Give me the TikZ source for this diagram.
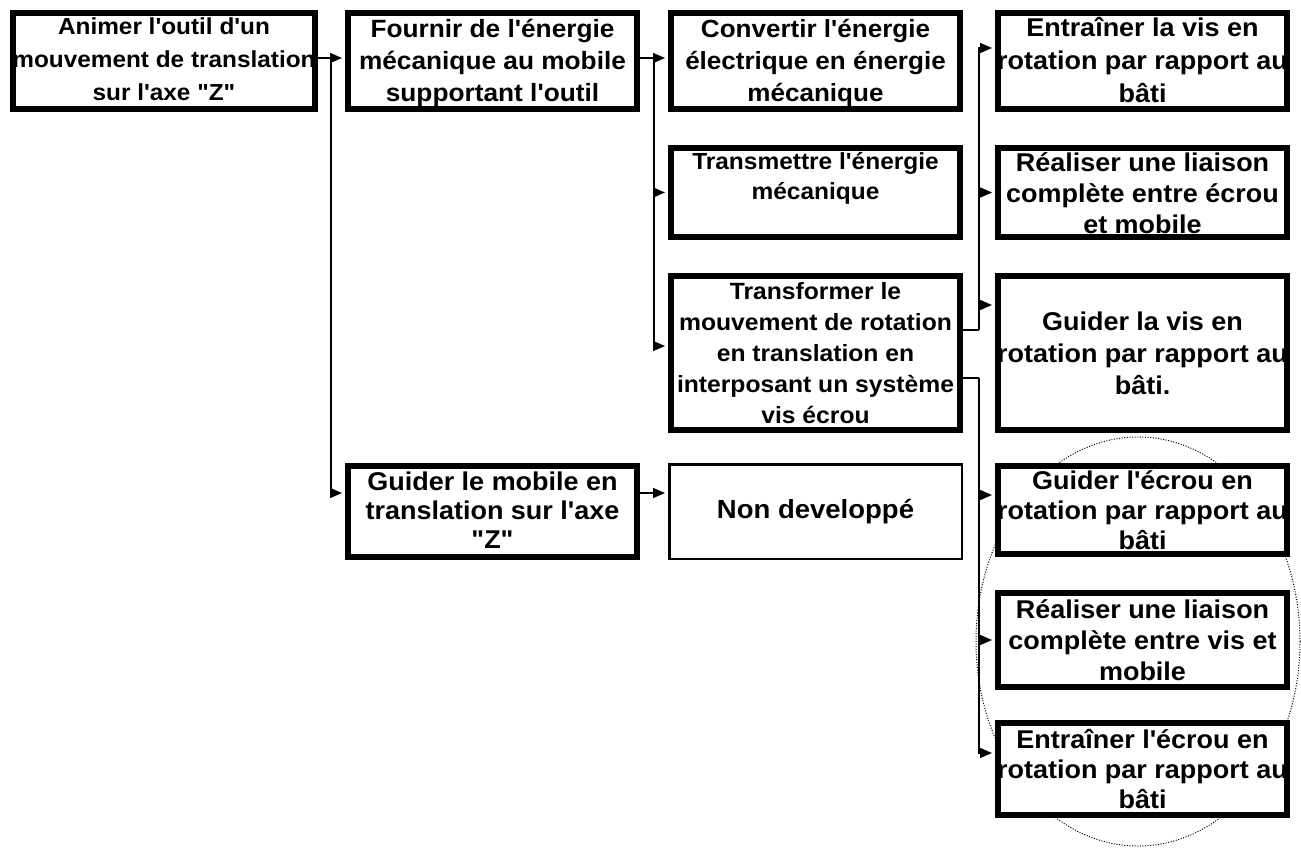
\documentclass[tikz,border=0pt]{standalone}
\usepackage{fontspec}
\setmainfont{Liberation Sans}[Ligatures=TeXOff, FakeStretch=1.05]
\usetikzlibrary{arrows.meta}
\begin{document}
\begin{tikzpicture}[x=1pt,y=-1pt,
  box/.style={draw, line width=6pt, inner sep=0pt, fill=white},
  thinbox/.style={box, line width=2.5pt},
  sz/.style 2 args={minimum width=#1pt, minimum height=#2pt},
  txt/.style={align=center, inner sep=0pt},
  fs/.style 2 args={font=\bfseries\fontsize{#1}{#2}\selectfont},
  conn/.style={line width=1.5pt},
  arr/.style={conn, -{Triangle[length=12pt,width=10pt]}, shorten >=3pt},
  ring/.style={line width=1pt, dash pattern=on 1pt off 1.6pt},
]
\useasboundingbox (0,0) rectangle (1301,848);

% dotted ellipse (behind)
\draw[ring] (1138,641.5) ellipse [x radius=162, y radius=204.5];

% boxes
\node[box, sz={302}{96}] (A) at (164,61) {};
\node[box, sz={289}{96}] (B) at (492.5,61) {};
\node[box, sz={289}{91}] (E) at (492.5,511.5) {};
\node[box, sz={289}{96}] (C) at (815.5,61) {};
\node[box, sz={289}{89}] (D) at (815.5,192.5) {};
\node[box, sz={289}{154}] (F) at (815.5,353) {};
\node[thinbox, sz={292.5}{94.5}] (G) at (815.5,511.5) {};
\node[box, sz={289}{96}] (H1) at (1142.5,61) {};
\node[box, sz={289}{89}] (H2) at (1142.5,192.5) {};
\node[box, sz={289}{154}] (H3) at (1142.5,353) {};
\node[box, sz={289}{88}] (H4) at (1142.5,510) {};
\node[box, sz={289}{94}] (H5) at (1142.5,640) {};
\node[box, sz={289}{92}] (H6) at (1142.5,769) {};

% texts
\node[txt, fs={23.2}{33}] (tA) at (164,59.5)
  {Animer l'outil d'un\\mouvement de translation\\sur l'axe "Z"};
\node[txt, fs={25}{32}] (tB) at (492.5,62.5)
  {Fournir de l'énergie\\mécanique au mobile\\supportant l'outil};
\node[txt, fs={25.7}{29}] (tE) at (492.5,510)
  {Guider le mobile en\\translation sur l'axe\\"Z"};
\node[txt, fs={24.8}{32}] (tC) at (815.5,62.5)
  {Convertir l'énergie\\électrique en énergie\\mécanique};
\node[txt, fs={23.3}{30}] (tD) at (815.5,178.5)
  {Transmettre l'énergie\\mécanique};
\node[txt, fs={23.5}{31}] (tF) at (815.5,353)
  {Transformer le\\mouvement de rotation\\en translation en\\interposant un système\\vis écrou};
\node[txt, fs={26.2}{30}] (tG) at (815.5,511.5) {Non developpé};
\node[txt, fs={25.7}{33}] (tH1) at (1142.5,60)
  {Entraîner la vis en\\rotation par rapport au\\bâti};
\node[txt, fs={25.7}{31}] (tH2) at (1142.5,193)
  {Réaliser une liaison\\complète entre écrou\\et mobile};
\node[txt, fs={25.7}{32}] (tH3) at (1142.5,353)
  {Guider la vis en\\rotation par rapport au\\bâti.};
\node[txt, fs={25.7}{30}] (tH4) at (1142.5,510)
  {Guider l'écrou en\\rotation par rapport au\\bâti};
\node[txt, fs={25.7}{31}] (tH5) at (1142.5,640.5)
  {Réaliser une liaison\\complète entre vis et\\mobile};
\node[txt, fs={25.7}{30}] (tH6) at (1142.5,769.5)
  {Entraîner l'écrou en\\rotation par rapport au\\bâti};

% junction points
\coordinate (s1) at (331,58);
\coordinate (s2) at (654,58);
\coordinate (t1) at (979,330);
\coordinate (t2) at (979,378);

% connectors
\draw[arr] ([yshift=3pt]A.east) -- ([yshift=3pt]B.west);
\draw[arr] (s1) |- ([yshift=18.5pt]E.west);
\draw[arr] ([yshift=18.5pt]E.east) -- ([yshift=18.5pt]G.west);
\draw[arr] ([yshift=3pt]B.east) -- ([yshift=3pt]C.west);
\draw[arr] (s2) |- (D.west);
\draw[arr] (s2) |- ([yshift=7pt]F.west);

\draw[conn] ([yshift=23pt]F.east) -- (t1);
\draw[arr] (t1) |- ([yshift=13pt]H1.west);
\draw[arr] (t1) |- (H2.west);
\draw[arr] (t1) |- ([yshift=48pt]H3.west);

\draw[conn] ([yshift=-25pt]F.east) -- (t2);
\draw[arr] (t2) |- ([yshift=15pt]H4.west);
\draw[arr] (t2) |- (H5.west);
\draw[arr] (t2) |- ([yshift=16pt]H6.west);
\end{tikzpicture}
\end{document}
